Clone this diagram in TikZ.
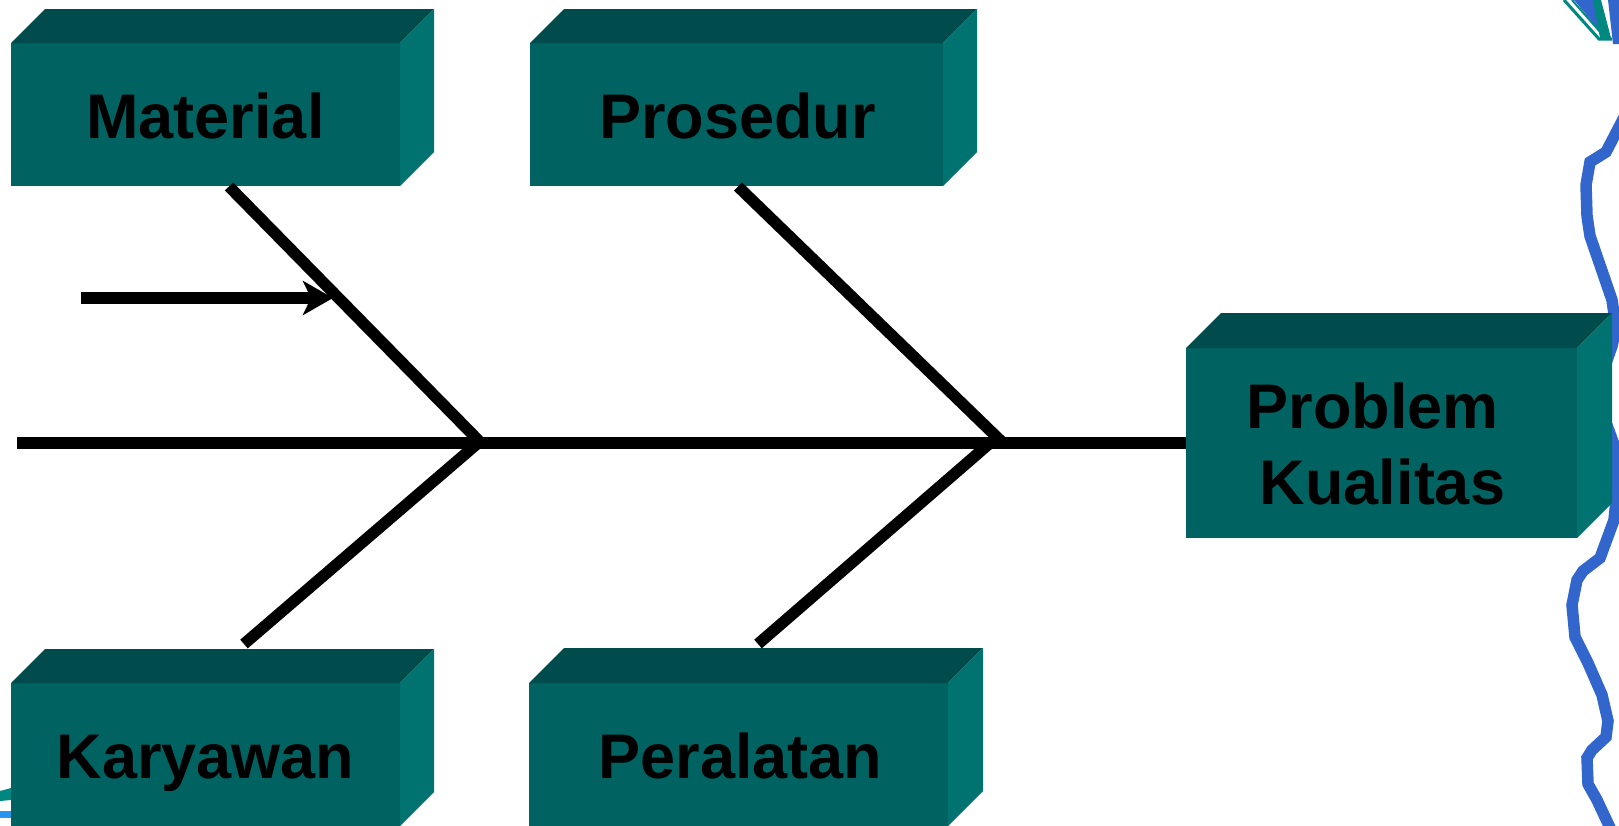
\documentclass[tikz,border=0pt]{standalone}
\usepackage{fontspec}
\setmainfont{Liberation Sans}
\usetikzlibrary{arrows.meta}

\definecolor{facecol}{RGB}{0,99,97}
\definecolor{topcol}{RGB}{0,75,75}
\definecolor{sidecol}{RGB}{0,114,111}
\definecolor{wireblue}{RGB}{51,102,204}
\definecolor{clipteal}{RGB}{0,135,128}
\definecolor{skyblue}{RGB}{40,150,240}

% a teal block: front face node plus top and right faces
% #1 name, #2 x, #3 y (centre of front face), #4 width, #5 height, #6 depth
\newcommand{\tealblock}[6]{%
  \node[face, minimum width=#4pt, minimum height=#5pt] (#1) at (#2,#3) {};
  \fill[topcol] (#1.north west) -- ++(#6pt,#6pt)
     -- ([shift={(#6pt,#6pt)}]#1.north east) -- (#1.north east) -- cycle;
  \fill[sidecol] (#1.north east) -- ++(#6pt,#6pt)
     -- ([shift={(#6pt,#6pt)}]#1.south east) -- (#1.south east) -- cycle;
}

\tikzset{
  face/.style={fill=facecol, draw=none, inner sep=0pt, outer sep=0pt},
  lbl/.style={anchor=base, inner sep=0pt, font=\fontsize{63}{76}\selectfont\bfseries, text=black},
  bone/.style={draw=black, line width=11.5pt, line cap=butt},
  wire/.style={draw=wireblue, line width=11.5pt, line join=miter}
}

\begin{document}
\begin{tikzpicture}[x=1pt, y=-1pt]
\useasboundingbox (0,0) rectangle (1619,825);
\clip (0,0) rectangle (1619,825);

% clip-art fragments along the edges
\fill[wireblue] (1574,0) -- (1594,0) -- (1600,31) -- cycle;
\fill[clipteal] (1593,0) -- (1601,0) -- (1611,38) -- (1600,38) -- cycle;
\fill[wireblue] (1608,0) -- (1619,0) -- (1619,44) -- (1613,44) -- cycle;
\draw[clipteal, line width=3pt] (1564,0) -- (1599,39) -- (1612,39);
\draw[clipteal, line width=2pt] (1572,0) -- (1601,33);
\path[wire] (1632,102) -- (1606,152) -- (1590,162) -- (1586,185) -- (1587,216)
  -- (1590,236) -- (1601,268) -- (1612,300) -- (1616,328) -- (1612,346)
  -- (1600,380) -- (1605,420) -- (1616,450) -- (1618,480) -- (1614,520)
  -- (1600,558) -- (1583,571) -- (1577,580) -- (1572,605) -- (1575,637)
  -- (1588,663) -- (1602,695) -- (1608,721) -- (1606,737) -- (1592,750)
  -- (1587,758) -- (1588,784) -- (1597,800) -- (1612,832);
\fill[clipteal] (0,791) -- (11,788) -- (11,800) -- (0,801) -- cycle;
\fill[skyblue] (0,811) -- (11,811) -- (11,818) -- (0,818) -- cycle;

% cause blocks and the effect block
\tealblock{mat}{205.5}{114.5}{389}{143}{34}
\tealblock{pro}{736.5}{114.5}{413}{143}{34}
\tealblock{kar}{205.5}{754.5}{389}{143}{34}
\tealblock{per}{738.5}{754.5}{419}{143}{35}
\tealblock{prob}{1381.5}{443}{391}{190}{35}

\node[lbl] (matlbl) at (205.5,138) {Material};
\node[lbl] (prolbl) at (737.5,138) {Prosedur};
\node[lbl] (karlbl) at (205.5,778) {Karyawan};
\node[lbl] (perlbl) at (740.5,778) {Peralatan};
\node[lbl] (problbl1) at (1372.5,428) {Problem};
\node[lbl] (problbl2) at (1382.5,504) {Kualitas};

% spine and bones
\coordinate (tail) at (17,443);
\coordinate (j1) at (481,443);
\coordinate (j1b) at (478,443);
\coordinate (j2) at (1003,443);
\coordinate (j2b) at (990,443);
\coordinate (kend) at (244,644);
\coordinate (pend) at (758,644);

\draw[bone] (tail) -- (prob.west);
\draw[bone] ([shift={(23.5pt,-0.5pt)}]mat.south) -- (j1);
\draw[bone] ([shift={(1.5pt,-0.5pt)}]pro.south) -- (j2);
\draw[bone] (kend) -- (j1b);
\draw[bone] (pend) -- (j2b);

% sub-cause arrow onto the Material bone
\coordinate (sub0) at (81,298);
\coordinate (sub1) at (333,298);
\draw[bone, -{Stealth[length=30pt, width=34pt, inset=8pt]}] (sub0) -- (sub1);
\end{tikzpicture}
\end{document}
